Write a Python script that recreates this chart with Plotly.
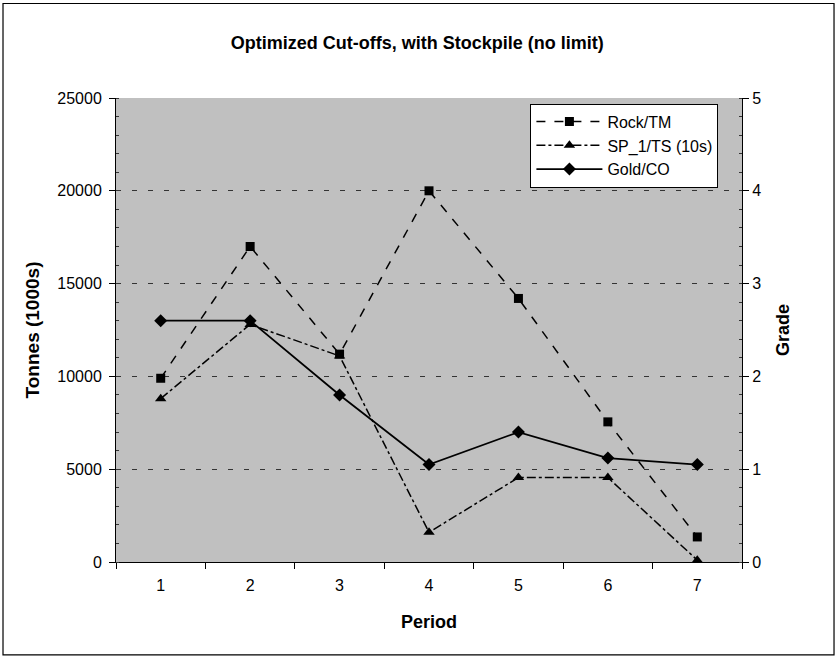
import plotly.graph_objects as go

periods = ["1", "2", "3", "4", "5", "6", "7"]
rock_tm = [9900, 17000, 11200, 20000, 14200, 7550, 1350]
sp1_ts = [8800, 12800, 11100, 1600, 4550, 4550, 100]
gold_co = [2.6, 2.6, 1.8, 1.05, 1.4, 1.12, 1.05]

FONT = "Liberation Sans, Arial, sans-serif"

fig = go.Figure()
fig.add_trace(go.Scatter(
    x=periods, y=rock_tm, name="Rock/TM", mode="lines+markers",
    line=dict(color="black", width=1.5, dash="dash"),
    marker=dict(symbol="square", size=9, color="black"),
))
fig.add_trace(go.Scatter(
    x=periods, y=sp1_ts, name="SP_1/TS (10s)", mode="lines+markers",
    line=dict(color="black", width=1.5, dash="dashdot"),
    marker=dict(symbol="triangle-up", size=10, color="black"),
))
fig.add_trace(go.Scatter(
    x=periods, y=gold_co, name="Gold/CO", mode="lines+markers", yaxis="y2",
    line=dict(color="black", width=1.8),
    marker=dict(symbol="diamond", size=10, color="black"),
))

fig.update_layout(
    width=836, height=660,
    margin=dict(l=116, r=94, t=98, b=98),
    paper_bgcolor="white",
    plot_bgcolor="#c0c0c0",
    font=dict(family=FONT, size=16, color="black"),
    title=dict(text="<b>Optimized Cut-offs, with Stockpile (no limit)</b>",
               x=0.499, xanchor="center", y=0.935, yanchor="middle",
               font=dict(size=18, family=FONT, color="black")),
    xaxis=dict(
        type="category", range=[-0.5, 6.5], tickson="boundaries",
        ticks="outside", ticklen=6, tickcolor="black",
        ticklabelstandoff=9,
        showline=True, linecolor="black", linewidth=1,
        showgrid=False, zeroline=False,
        title=dict(text="<b>Period</b>", standoff=22, font=dict(size=18)),
    ),
    yaxis=dict(
        range=[0, 25000], dtick=5000, tickformat="d",
        ticks="outside", ticklen=6, tickcolor="black",
        ticklabelstandoff=4,
        showline=True, linecolor="black", linewidth=1, mirror=False,
        showgrid=True, gridcolor="#333333", gridwidth=1, griddash="5px,11px",
        zeroline=False,
        minor=dict(dtick=1000, ticks="inside", ticklen=3, tickcolor="#333333", showgrid=False),
        title=dict(text="<b>Tonnes (1000s)</b>", standoff=12, font=dict(size=19)),
    ),
    yaxis2=dict(
        overlaying="y", side="right", range=[0, 5], dtick=1,
        ticks="outside", ticklen=6, tickcolor="black",
        showline=True, linecolor="black", linewidth=1,
        showgrid=False, zeroline=False,
        minor=dict(dtick=0.2, ticks="inside", ticklen=3, tickcolor="#333333", showgrid=False),
        title=dict(text="<b>Grade</b>", standoff=16, font=dict(size=18)),
    ),
    legend=dict(
        x=0.662, y=0.988, xanchor="left", yanchor="top",
        bgcolor="white", bordercolor="black", borderwidth=1,
        font=dict(size=16, family=FONT), itemwidth=66,
        tracegroupgap=0,
    ),
    showlegend=True,
)

# outer chart frame
fig.add_shape(type="rect", xref="paper", yref="paper",
              x0=-0.1805, x1=1.147, y0=-0.2003, y1=1.2037,
              line=dict(color="black", width=1.2), fillcolor="rgba(0,0,0,0)",
              layer="below")

fig.write_html("out.html")
